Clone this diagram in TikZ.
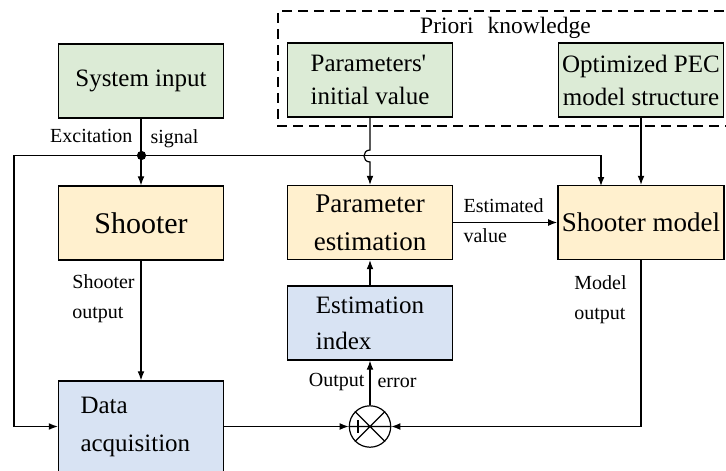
\documentclass[tikz,border=0pt]{standalone}
\usepackage{fontspec}
\setmainfont{Liberation Serif}
\usepackage{xcolor}
\usetikzlibrary{arrows.meta}
\definecolor{boxgreen}{RGB}{220,235,214}
\definecolor{boxyellow}{RGB}{255,240,206}
\definecolor{boxblue}{RGB}{216,227,243}
\tikzset{
	blk/.style={draw,line width=0.65pt,minimum width=82.5pt,minimum height=37pt,inner sep=2pt},
	lbl/.style={font=\fontsize{10}{15}\selectfont,inner sep=0pt,align=left},
	arr/.style={-{Latex[length=4.5pt,width=3.4pt]}}
}
\begin{document}
\begin{tikzpicture}[x=0.5pt,y=-0.5pt,line width=0.6pt]
	\useasboundingbox (0,0) rectangle (726,470);
	\draw[line width=0.75pt,dash pattern=on 5pt off 3pt] (740,11)--(278,11)--(278,126)--(740,126);
	\node[inner sep=0pt,font=\fontsize{11.75}{14}\selectfont] (priori) at (505.5,27.5) {Priori\hspace{7pt}knowledge};
	\node[blk,fill=boxgreen,align=center,font=\fontsize{12.5}{16.5}\selectfont] (sysin) at (141,81) {System input};
	\node[blk,fill=boxgreen,align=left,font=\fontsize{12.5}{16.5}\selectfont] (pinit) at (370,80) {Parameters\textquotesingle\\initial value};
	\node[blk,fill=boxgreen,align=center,font=\fontsize{12.5}{16.5}\selectfont] (opt) at (641,80) {Optimized PEC\\model structure};
	\node[blk,fill=boxyellow,font=\fontsize{15}{18}\selectfont] (shooter) at (141,223) {Shooter};
	\node[blk,fill=boxyellow,align=center,font=\fontsize{13.5}{19}\selectfont] (pest) at (370,222.5) {Parameter\\estimation};
	\node[blk,fill=boxyellow,font=\fontsize{13.5}{16}\selectfont] (model) at (641,222.5) {Shooter model};
	\node[blk,fill=boxblue,align=left,font=\fontsize{12.5}{18}\selectfont] (eidx) at (370,323) {Estimation\\index};
	\node[blk,fill=boxblue,minimum height=45.5pt,inner xsep=11pt,text width=60.5pt,align=left,font=\fontsize{12.5}{19}\selectfont] (daq) at (141,426.5) {Data\\acquisition};
	\node[circle,draw,fill=white,minimum size=20.7pt,inner sep=0pt] (sum) at (370,426.5) {};
	\draw (sum.north west)--(sum.south east) (sum.north east)--(sum.south west) (sum.west)--(sum.east);
	\draw (358,420)--(358,433);
	\node[circle,fill,inner sep=0pt,minimum size=4.6pt] (junc) at (141.5,155.5) {};
	\coordinate (lft) at (14,155.5);
	\coordinate (mtop) at (601,186);
	% connectors
	\draw[arr] (sysin)--(shooter);
	\draw[arr] (junc.center)--(lft)|-(daq.west);
	\draw[arr] (junc.center)-|(mtop);
	\draw[arr] (pinit)--(370,150) .. controls (362,150) and (362,162) .. (370,162)--(pest);
	\draw[arr] (opt)--(model);
	\draw[arr] (pest)--(model);
	\draw[arr] (shooter)--(daq);
	\draw[arr] (daq)--(sum);
	\draw[arr] (model)|-(sum);
	\draw[arr] (sum)--(eidx);
	\draw[arr] (eidx)--(pest);
	% labels
	\node[lbl,anchor=east] (exc) at (133,136) {Excitation};
	\node[lbl,anchor=west] (sig) at (150,138.4) {signal};
	\node[lbl] (shout) at (103.5,298.4) {Shooter\\output};
	\node[lbl] (mout) at (600.5,300) {Model\\output};
	\node[lbl,anchor=west] (estv) at (463,220.7) {Estimated\\value};
	\node[lbl,anchor=east] (outp) at (365,382.4) {Output};
	\node[lbl,anchor=west] (err) at (377,382.5) {error};
\end{tikzpicture}
\end{document}
